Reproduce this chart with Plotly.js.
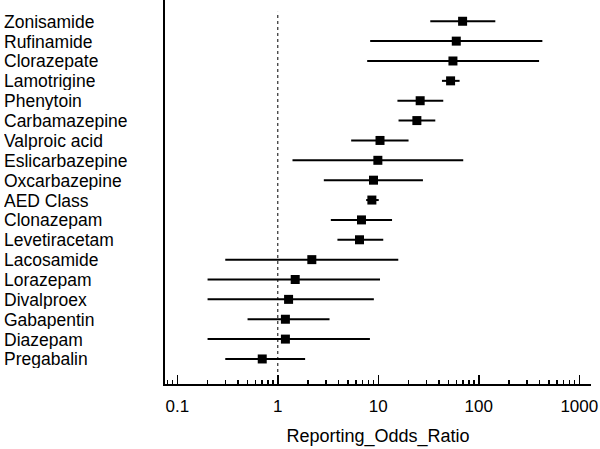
<!DOCTYPE html>
<html>
<head>
<meta charset="utf-8">
<script src="https://cdn.plot.ly/plotly-3.0.1.min.js"></script>
<style>
  html, body { margin: 0; padding: 0; background: #fff; }
  #chart { width: 600px; height: 449px; }
</style>
</head>
<body>
<div id="chart"></div>
<script>
var drugs = ['Zonisamide', 'Rufinamide', 'Clorazepate', 'Lamotrigine', 'Phenytoin',
  'Carbamazepine', 'Valproic acid', 'Eslicarbazepine', 'Oxcarbazepine', 'AED Class',
  'Clonazepam', 'Levetiracetam', 'Lacosamide', 'Lorazepam', 'Divalproex',
  'Gabapentin', 'Diazepam', 'Pregabalin'];
var ror    = [69, 59.7, 55.3, 52.4, 26.1, 24.2, 10.4, 9.9, 8.96, 8.63, 6.8, 6.5, 2.18, 1.49, 1.28, 1.19, 1.19, 0.70];
var ciLow  = [32.9, 8.3, 7.75, 43, 15.5, 15.9, 5.37, 1.4, 2.87, 7.57, 3.37, 3.92, 0.30, 0.20, 0.20, 0.50, 0.20, 0.30];
var ciHigh = [146, 429, 398, 64.4, 44.3, 36.9, 20, 70, 27.8, 10.1, 13.7, 11.2, 15.8, 10.4, 9.03, 3.27, 8.25, 1.87];

var fontFam = '"Liberation Sans", Arial, sans-serif';

function forest_plot(id) {
  var plus = ror.map(function (v, i) { return ciHigh[i] - v; });
  var minus = ror.map(function (v, i) { return v - ciLow[i]; });

  var trace = {
    x: ror,
    y: drugs,
    type: 'scatter',
    mode: 'markers',
    marker: {symbol: 'square', size: 9, color: '#000'},
    error_x: {
      type: 'data',
      symmetric: false,
      array: plus,
      arrayminus: minus,
      color: '#000',
      thickness: 2,
      width: 0
    },
    hoverinfo: 'none',
    showlegend: false
  };

  // drug names sit left-aligned at the page edge
  var labels = drugs.map(function (d) {
    return {
      text: d,
      xref: 'paper', x: -0.383, xanchor: 'left',
      yref: 'y', y: d, yanchor: 'middle',
      height: 19,
      showarrow: false,
      font: {family: fontFam, size: 17.5, color: '#000'}
    };
  });

  var layout = {
    width: 600,
    height: 449,
    margin: {l: 165, r: 9, t: 0, b: 65},
    paper_bgcolor: '#fff',
    plot_bgcolor: '#fff',
    font: {family: fontFam, color: '#000'},
    xaxis: {
      type: 'log',
      range: [-1.1225, 3.1165],
      tickvals: [0.1, 1, 10, 100, 1000],
      ticktext: ['0.1', '1', '10', '100', '1000'],
      ticks: 'inside',
      ticklen: 9,
      tickwidth: 1.5,
      tickcolor: '#000',
      minor: {ticks: 'inside', ticklen: 4, tickwidth: 1.5, tickcolor: '#000', dtick: 'D1', showgrid: false},
      showline: true,
      linewidth: 2,
      linecolor: '#000',
      showgrid: false,
      zeroline: false,
      tickfont: {size: 17},
      ticklabelstandoff: 6,
      title: {text: 'Reporting_Odds_Ratio', font: {size: 18}, standoff: 14}
    },
    yaxis: {
      type: 'category',
      range: [18.26, -1.07],
      showticklabels: false,
      ticks: '',
      showline: true,
      linewidth: 2,
      linecolor: '#000',
      showgrid: false,
      zeroline: false
    },
    shapes: [{
      type: 'line',
      xref: 'x', x0: 1, x1: 1,
      yref: 'paper', y0: 0, y1: 0.969,
      line: {color: '#000', width: 1, dash: 'dot'}
    }],
    annotations: labels
  };

  Plotly.newPlot(id, [trace], layout, {staticPlot: true});
}

forest_plot('chart');
</script>
</body>
</html>
